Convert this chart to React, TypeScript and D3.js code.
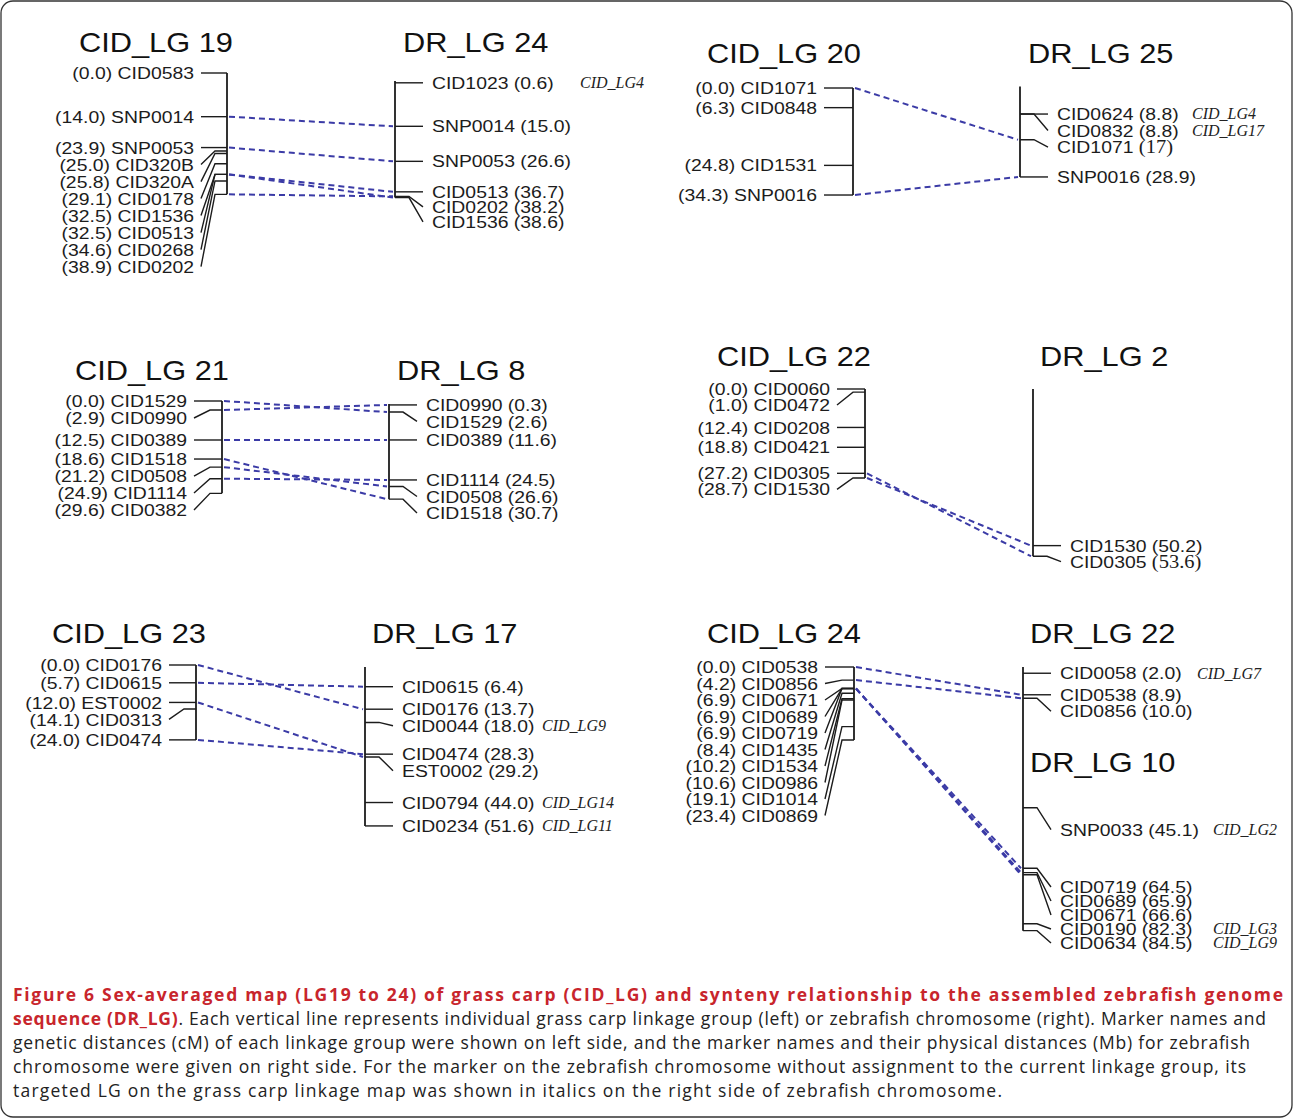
import React from 'react';
import * as d3 from 'd3';

// [marker, position, note (other CID_LG), serif-number]
type M = [string, string, string?, boolean?];

const CID_LG19: M[] = [
  ['CID0583', '0.0'], ['SNP0014', '14.0'], ['SNP0053', '23.9'], ['CID320B', '25.0'], ['CID320A', '25.8'],
  ['CID0178', '29.1'], ['CID1536', '32.5'], ['CID0513', '32.5'], ['CID0268', '34.6'], ['CID0202', '38.9'],
];
const DR_LG24: M[] = [
  ['CID1023', '0.6', 'CID_LG4'], ['SNP0014', '15.0'], ['SNP0053', '26.6'], ['CID0513', '36.7'], ['CID0202', '38.2'], ['CID1536', '38.6'],
];
const CID_LG20: M[] = [['CID1071', '0.0'], ['CID0848', '6.3'], ['CID1531', '24.8'], ['SNP0016', '34.3']];
const DR_LG25: M[] = [
  ['CID0624', '8.8', 'CID_LG4'], ['CID0832', '8.8', 'CID_LG17'], ['CID1071', '17', '', true], ['SNP0016', '28.9'],
];
const CID_LG21: M[] = [
  ['CID1529', '0.0'], ['CID0990', '2.9'], ['CID0389', '12.5'], ['CID1518', '18.6'], ['CID0508', '21.2'], ['CID1114', '24.9'], ['CID0382', '29.6'],
];
const DR_LG8: M[] = [
  ['CID0990', '0.3'], ['CID1529', '2.6'], ['CID0389', '11.6'], ['CID1114', '24.5'], ['CID0508', '26.6'], ['CID1518', '30.7'],
];
const CID_LG22: M[] = [
  ['CID0060', '0.0'], ['CID0472', '1.0'], ['CID0208', '12.4'], ['CID0421', '18.8'], ['CID0305', '27.2'], ['CID1530', '28.7'],
];
const DR_LG2: M[] = [['CID1530', '50.2'], ['CID0305', '53.6', '', true]];
const CID_LG23: M[] = [['CID0176', '0.0'], ['CID0615', '5.7'], ['EST0002', '12.0'], ['CID0313', '14.1'], ['CID0474', '24.0']];
const DR_LG17: M[] = [
  ['CID0615', '6.4'], ['CID0176', '13.7'], ['CID0044', '18.0', 'CID_LG9'], ['CID0474', '28.3'], ['EST0002', '29.2'],
  ['CID0794', '44.0', 'CID_LG14'], ['CID0234', '51.6', 'CID_LG11'],
];
const CID_LG24: M[] = [
  ['CID0538', '0.0'], ['CID0856', '4.2'], ['CID0671', '6.9'], ['CID0689', '6.9'], ['CID0719', '6.9'], ['CID1435', '8.4'],
  ['CID1534', '10.2'], ['CID0986', '10.6'], ['CID1014', '19.1'], ['CID0869', '23.4'],
];
const DR_LG22: M[] = [['CID0058', '2.0', 'CID_LG7'], ['CID0538', '8.9'], ['CID0856', '10.0']];
const DR_LG10: M[] = [
  ['SNP0033', '45.1', 'CID_LG2'], ['CID0719', '64.5'], ['CID0689', '65.9'], ['CID0671', '66.6'],
  ['CID0190', '82.3', 'CID_LG3'], ['CID0634', '84.5', 'CID_LG9'],
];

const CAPTION_BOLD_1 = 'Figure 6 Sex-averaged map (LG19 to 24) of grass carp (CID_LG) and synteny relationship to the assembled zebrafish genome';
const CAPTION_BOLD_2 = 'sequence (DR_LG)';
const CAPTION_REST = [
  '. Each vertical line represents individual grass carp linkage group (left) or zebrafish chromosome (right). Marker names and',
  'genetic distances (cM) of each linkage group were shown on left side, and the marker names and their physical distances (Mb) for zebrafish',
  'chromosome were given on right side. For the marker on the zebrafish chromosome without assignment to the current linkage group, its',
  'targeted LG on the grass carp linkage map was shown in italics on the right side of zebrafish chromosome.',
];

const SANS = "'Liberation Sans', Arial, sans-serif";
const SERIF = "'Liberation Serif', 'Times New Roman', serif";
const CAP_FONT = "'Open Sans', 'Noto Sans', sans-serif";
const LABEL_FS = 17;
const TITLE_FS = 27;
const SX = 1.14;
const INK = '#1c1c1c';
const DASH = '#3b3ba6';
const RED = '#c8252c';

interface DrGroup { data: M[]; title: string; titleX: number; titleY: number; spacing: number; noteX: number; offset?: number; maxY?: number }
interface Panel {
  cid: M[]; cidTitle: string; cidTitleX: number; titleY: number; cidY0: number; cidK: number;
  labelEnd: number; cidBarX: number; cidSpacing: number;
  drBarX: number; drY0: number; drK: number; dr: DrGroup[];
}

const panels: Panel[] = [
  {
    cid: CID_LG19, cidTitle: 'CID_LG 19', cidTitleX: 79, titleY: 52, cidY0: 73, cidK: 3.12, labelEnd: 194, cidBarX: 227, cidSpacing: 17,
    drBarX: 395, drY0: 81, drK: 3.02,
    dr: [{ data: DR_LG24, title: 'DR_LG 24', titleX: 403, titleY: 52, spacing: 15, noteX: 580 }],
  },
  {
    cid: CID_LG20, cidTitle: 'CID_LG 20', cidTitleX: 707, titleY: 63, cidY0: 88, cidK: 3.12, labelEnd: 817, cidBarX: 853, cidSpacing: 16.5,
    drBarX: 1020, drY0: 86.5, drK: 3.13,
    dr: [{ data: DR_LG25, title: 'DR_LG 25', titleX: 1028, titleY: 63, spacing: 16.5, noteX: 1192 }],
  },
  {
    cid: CID_LG21, cidTitle: 'CID_LG 21', cidTitleX: 75, titleY: 380, cidY0: 401, cidK: 3.12, labelEnd: 187, cidBarX: 222, cidSpacing: 17,
    drBarX: 389, drY0: 404, drK: 3.1,
    dr: [{ data: DR_LG8, title: 'DR_LG 8', titleX: 397, titleY: 380, spacing: 16.5, noteX: 560 }],
  },
  {
    cid: CID_LG22, cidTitle: 'CID_LG 22', cidTitleX: 717, titleY: 366, cidY0: 389, cidK: 3.1, labelEnd: 830, cidBarX: 865, cidSpacing: 16,
    drBarX: 1033, drY0: 389, drK: 3.12,
    dr: [{ data: DR_LG2, title: 'DR_LG 2', titleX: 1040, titleY: 366, spacing: 16, noteX: 1200 }],
  },
  {
    cid: CID_LG23, cidTitle: 'CID_LG 23', cidTitleX: 52, titleY: 643, cidY0: 665, cidK: 3.12, labelEnd: 162, cidBarX: 196, cidSpacing: 17,
    drBarX: 365, drY0: 667, drK: 3.08,
    dr: [{ data: DR_LG17, title: 'DR_LG 17', titleX: 372, titleY: 643, spacing: 16.5, noteX: 542 }],
  },
  {
    cid: CID_LG24, cidTitle: 'CID_LG 24', cidTitleX: 707, titleY: 643, cidY0: 667, cidK: 3.12, labelEnd: 818, cidBarX: 854, cidSpacing: 16.5,
    drBarX: 1023, drY0: 667, drK: 3.12,
    dr: [
      { data: DR_LG22, title: 'DR_LG 22', titleX: 1030, titleY: 643, spacing: 16.5, noteX: 1197 },
      { data: DR_LG10, title: 'DR_LG 10', titleX: 1030, titleY: 772, spacing: 14, noteX: 1213, offset: 22, maxY: 943 },
    ],
  },
];

function layoutLabels(ys: number[], spacing: number, offset = 0, maxY = Infinity): number[] {
  const out: number[] = [];
  ys.forEach((y, i) => {
    const t = y + offset;
    out.push(i === 0 ? t : Math.max(t, out[i - 1] + spacing));
  });
  if (isFinite(maxY)) {
    for (let i = out.length - 1; i >= 0; i--) {
      const lim = i === out.length - 1 ? maxY : out[i + 1] - spacing;
      out[i] = Math.min(out[i], lim);
    }
  }
  return out;
}

function Title({ x, y, text }: { x: number; y: number; text: string }) {
  return (
    <text transform={`translate(${x},${y}) scale(${SX},1)`} fontFamily={SANS} fontSize={TITLE_FS} fill="#111">{text}</text>
  );
}

function PanelView({ p }: { p: Panel }) {
  const cidScale = d3.scaleLinear().domain([0, 1]).range([p.cidY0, p.cidY0 + p.cidK]);
  const drScale = d3.scaleLinear().domain([0, 1]).range([p.drY0, p.drY0 + p.drK]);
  const cidYs = p.cid.map((d) => cidScale(+d[1]));
  const cidLs = layoutLabels(cidYs, p.cidSpacing);
  const cidMax = d3.max(p.cid, (d) => +d[1]) as number;
  const cKnee = p.cidBarX - 12;
  const cStart = p.labelEnd + 7;

  const drAll = p.dr.flatMap((g) => g.data);
  const drMax = d3.max(drAll, (d) => +d[1]) as number;
  const dKnee = p.drBarX + 14;
  const dEnd = p.drBarX + 28;
  const dLabel = p.drBarX + 37;

  const links: { y1: number; y2: number; key: string }[] = [];
  p.cid.forEach((c, i) => {
    drAll.forEach((d) => {
      if (d[0] === c[0]) links.push({ y1: cidYs[i], y2: drScale(+d[1]), key: c[0] });
    });
  });

  return (
    <g>
      <Title x={p.cidTitleX} y={p.titleY} text={p.cidTitle} />
      {p.dr.map((g) => <Title key={g.title} x={g.titleX} y={g.titleY} text={g.title} />)}

      {/* CID linkage group */}
      <line x1={p.cidBarX} x2={p.cidBarX} y1={cidScale(0)} y2={cidScale(cidMax)} stroke={INK} strokeWidth={1.8} />
      {p.cid.map((d, i) => (
        <g key={d[0] + i}>
          <path d={`M${cStart},${cidLs[i]}L${cKnee},${cidYs[i]}L${p.cidBarX},${cidYs[i]}`} fill="none" stroke={INK} strokeWidth={1.4} />
          <text transform={`translate(${p.labelEnd},${cidLs[i]}) scale(${SX},1)`} dy="0.36em" textAnchor="end"
            fontFamily={SANS} fontSize={LABEL_FS} fill={INK}>{`(${d[1]}) ${d[0]}`}</text>
        </g>
      ))}

      {/* zebrafish chromosome */}
      <line x1={p.drBarX} x2={p.drBarX} y1={drScale(0)} y2={drScale(drMax)} stroke={INK} strokeWidth={1.8} />
      {p.dr.map((g) => {
        const ys = g.data.map((d) => drScale(+d[1]));
        const ls = layoutLabels(ys, g.spacing, g.offset || 0, g.maxY ?? Infinity);
        return (
          <g key={g.title}>
            {g.data.map((d, i) => (
              <g key={d[0]}>
                <path d={`M${p.drBarX},${ys[i]}L${dKnee},${ys[i]}L${dEnd},${ls[i]}`} fill="none" stroke={INK} strokeWidth={1.4} />
                <text transform={`translate(${dLabel},${ls[i]}) scale(${SX},1)`} dy="0.36em" fontFamily={SANS} fontSize={LABEL_FS} fill={INK}>
                  {d[0] + ' '}
                  {d[3] ? <tspan fontFamily={SERIF} fontSize={LABEL_FS + 1}>{`(${d[1]})`}</tspan> : `(${d[1]})`}
                </text>
                {d[2] ? (
                  <text x={g.noteX} y={ls[i]} dy="0.33em" fontFamily={SERIF} fontStyle="italic" fontSize={16} fill="#222">{d[2]}</text>
                ) : null}
              </g>
            ))}
          </g>
        );
      })}

      {/* synteny links */}
      {links.map((l, i) => (
        <line key={l.key + i} x1={p.cidBarX + 2} y1={l.y1} x2={p.drBarX - 2} y2={l.y2}
          stroke={DASH} strokeWidth={2} strokeDasharray="6 4" />
      ))}
    </g>
  );
}

export default function App() {
  const W = 1293, H = 1118;
  return (
    <svg width={W} height={H} viewBox={`0 0 ${W} ${H}`} style={{ position: 'absolute', left: 0, top: 0, background: '#fff' }}>
      <rect x={1} y={1} width={W - 2} height={H - 2} rx={12} fill="#fff" stroke="#333" strokeWidth={1.3} />
      {panels.map((p) => <PanelView key={p.cidTitle} p={p} />)}

      <g fontFamily={CAP_FONT} fontSize={17.5}>
        <text x={13} y={1001} fontWeight="bold" fill={RED} textLength={1270} lengthAdjust="spacing">{CAPTION_BOLD_1}</text>
        <text x={13} y={1025} textLength={1253} lengthAdjust="spacing">
          <tspan fontWeight="bold" fill={RED}>{CAPTION_BOLD_2}</tspan>
          <tspan fill="#222">{CAPTION_REST[0]}</tspan>
        </text>
        <text x={13} y={1049} fill="#222" textLength={1237} lengthAdjust="spacing">{CAPTION_REST[1]}</text>
        <text x={13} y={1073} fill="#222" textLength={1233} lengthAdjust="spacing">{CAPTION_REST[2]}</text>
        <text x={13} y={1097} fill="#222" textLength={989} lengthAdjust="spacing">{CAPTION_REST[3]}</text>
      </g>
    </svg>
  );
}
